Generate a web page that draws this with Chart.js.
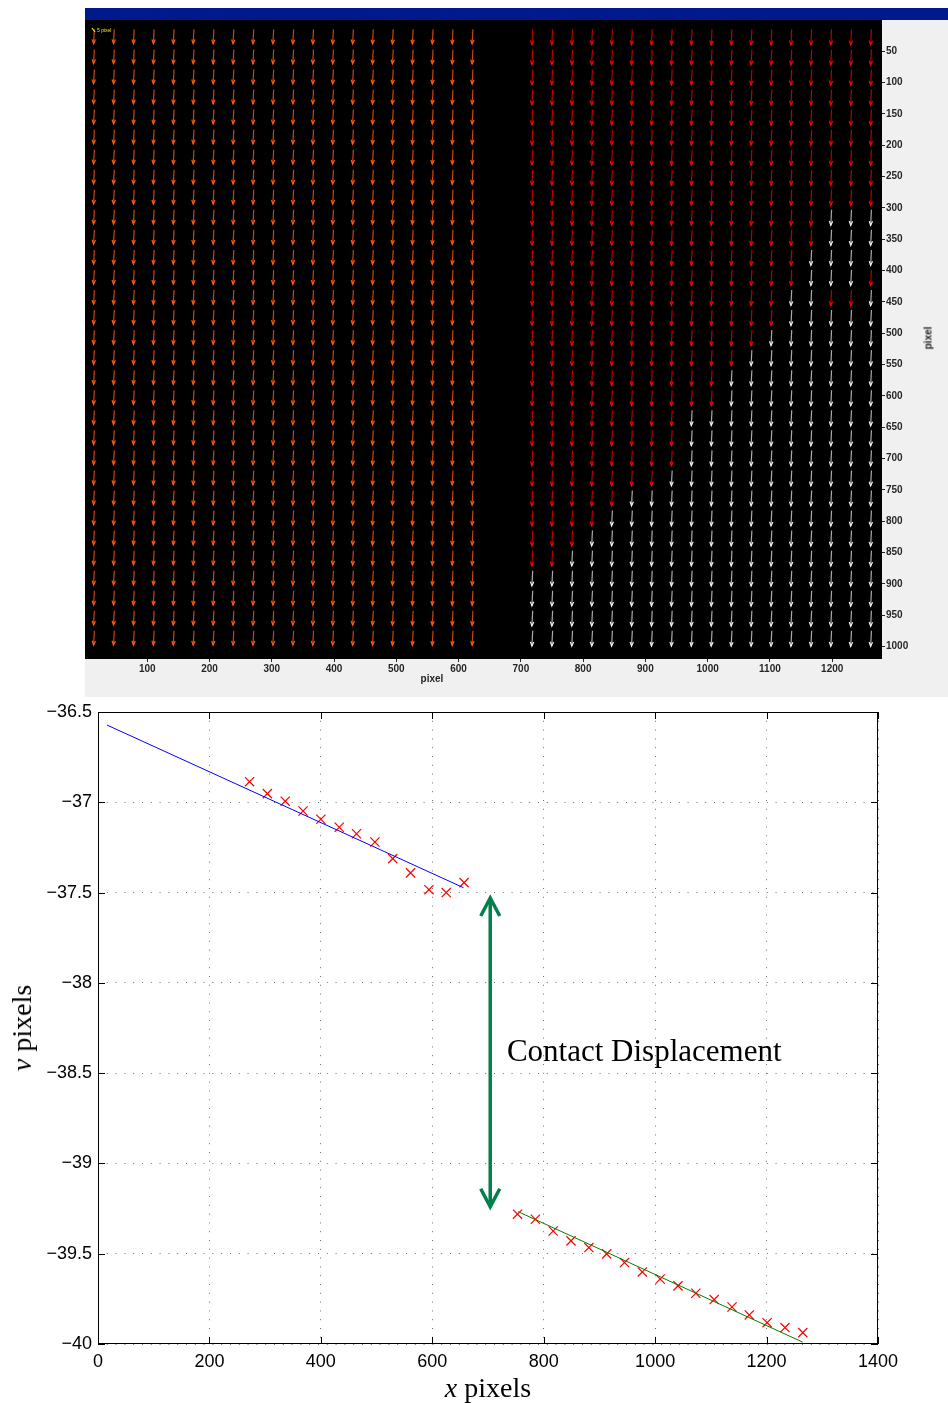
<!DOCTYPE html>
<html>
<head>
<meta charset="utf-8">
<script src="https://cdn.jsdelivr.net/npm/chart.js@4.4.1/dist/chart.umd.min.js"></script>
<style>
  body { margin: 0; background: #fff; width: 948px; height: 1403px; position: relative; overflow: hidden; }
  #titleBar { position: absolute; left: 85px; top: 8px; width: 863px; height: 13px; background: #001a8c; }
  #topFig { position: absolute; left: 85px; top: 20px; width: 863px; height: 677px; background: #f0f0f0; }
  #bottomFig { position: absolute; left: 0; top: 700px; width: 948px; height: 703px; }
  .lbl { position: absolute; white-space: nowrap; transform: translate(-50%, -50%); }
  .small { font: bold 10px "Liberation Sans", Arial, sans-serif; color: #262626; }
  .serif { font: 28px "Liberation Serif", "Times New Roman", serif; color: #000; }
</style>
</head>
<body>
<div id="titleBar"></div>
<div id="topFig"><canvas id="quiverChart" width="863" height="677"></canvas></div>
<div id="bottomFig"><canvas id="dispChart" width="948" height="703"></canvas></div>

<div class="lbl small" style="left:432px; top:678px;">pixel</div>
<div class="lbl small" style="left:928px; top:338px; transform: translate(-50%, -50%) rotate(-90deg);">pixel</div>
<div class="lbl serif" style="left:488px; top:1388px;"><i>x</i> pixels</div>
<div class="lbl serif" style="left:22px; top:1028px; transform: translate(-50%, -50%) rotate(-90deg);"><i>v</i> pixels</div>

<script>
// ---- top panel: displacement vectors ----
// grid columns (pixel x) left of the contact and right of it
const leftCols = [15, 47, 79, 111, 143, 175, 207, 239, 271, 303, 335, 367, 399, 431, 463, 495, 527, 559, 591, 623];
const rightCols = [719, 751, 783, 815, 847, 879, 911, 943, 975, 1007, 1039, 1071, 1103, 1135, 1167, 1199, 1231, 1263];
// grid rows (pixel y)
const gridRows = [15, 47, 79, 111, 143, 175, 207, 239, 271, 303, 335, 367, 399, 431, 463, 495,
  527, 559, 591, 623, 655, 687, 719, 751, 783, 815, 847, 879, 911, 943, 975];
// vertical displacement (pixels) per column
const leftV = [36.59, 36.64, 36.68, 36.73, 36.77, 36.82, 36.86, 36.91, 36.89, 36.95,
  36.99, 37.05, 37.09, 37.14, 37.17, 37.22, 37.31, 37.39, 37.48, 37.50];
const rightV = [39.23, 39.28, 39.31, 39.37, 39.43, 39.47, 39.50, 39.55, 39.60, 39.64,
  39.68, 39.72, 39.75, 39.80, 39.84, 39.88, 39.91, 39.94];
const driftU = -2; // small sideways component
const arrowScale = 0.62;
// row index where each right column turns white (lower right region)
const whiteFromRow = [27, 27, 26, 25, 24, 23, 23, 22, 19, 19, 17, 16, 15, 13, 11, 9, 9, 9];
// a few red arrows left inside the white region: [right column index, row index]
const redInWhite = [[15, 13], [16, 13], [17, 12]];
const pixelTicksX = [100, 200, 300, 400, 500, 600, 700, 800, 900, 1000, 1100, 1200];
const pixelTicksY = [50, 100, 150, 200, 250, 300, 350, 400, 450, 500, 550, 600, 650, 700, 750, 800, 850, 900, 950, 1000];

// ---- bottom panel ----
const upperX = [272, 304, 336, 368, 400, 433, 464, 497, 529, 561, 594, 625, 657];
const upperV = [-36.886, -36.952, -36.994, -37.048, -37.094, -37.138, -37.174, -37.220, -37.312, -37.391, -37.484, -37.500, -37.445];
const lowerX = [753, 785, 817, 849, 881, 913, 945, 977, 1009, 1041, 1073, 1106, 1138, 1169, 1201, 1233, 1265];
const lowerV = [-39.281, -39.309, -39.374, -39.429, -39.466, -39.501, -39.549, -39.601, -39.640, -39.678, -39.719, -39.754, -39.795, -39.839, -39.882, -39.909, -39.937];
const upperFitX = [16, 656];
const upperFitV = [-36.572, -37.473];
const lowerFitX = [754, 1265];
const lowerFitV = [-39.267, -39.990];
const gapX = 704;              // where the contact displacement arrow sits
const gapV = [-37.53, -39.24];  // arrow ends
const xTicks = [0, 200, 400, 600, 800, 1000, 1200, 1400];
const vTicks = [-40, -39.5, -39, -38.5, -38, -37.5, -37, -36.5];

// build the vector lists
let orangeArrows = [], redArrows = [], whiteArrows = [];
leftCols.forEach((cx, i) => {
  gridRows.forEach(ry => {
    orangeArrows.push({ x: cx, y: ry, u: driftU, v: leftV[i] });
  });
});
rightCols.forEach((cx, i) => {
  gridRows.forEach((ry, r) => {
    let p = { x: cx, y: ry, u: driftU, v: rightV[i] };
    let isRed = r < whiteFromRow[i] || redInWhite.some(e => e[0] == i && e[1] == r);
    if (isRed) redArrows.push(p); else whiteArrows.push(p);
  });
});

// chart.js pads the chart area for tick labels, we set the sizes ourselves
const noPad = s => { s.paddingTop = 0; s.paddingBottom = 0; s.paddingLeft = 0; s.paddingRight = 0; };
const plainNum = v => String(v);

const quiverPlugin = {
  id: 'quiver',
  beforeDatasetsDraw(chart) {
    const a = chart.chartArea;
    chart.ctx.save();
    chart.ctx.fillStyle = '#000';
    chart.ctx.fillRect(a.left, a.top, a.width, a.height);
    chart.ctx.restore();
  },
  afterDatasetsDraw(chart) {
    const { ctx, scales: { x, y } } = chart;
    ctx.save();
    ctx.lineWidth = 1.2;
    chart.data.datasets.forEach(ds => {
      ds.data.forEach(p => {
        const x0 = x.getPixelForValue(p.x), y0 = y.getPixelForValue(p.y);
        const x1 = x.getPixelForValue(p.x + p.u * arrowScale);
        const y1 = y.getPixelForValue(p.y + p.v * arrowScale);
        const ang = Math.atan2(y1 - y0, x1 - x0);
        ctx.strokeStyle = ds.stemColor;
        ctx.beginPath(); ctx.moveTo(x0, y0); ctx.lineTo(x1, y1); ctx.stroke();
        ctx.strokeStyle = ds.headColor;
        ctx.beginPath();
        ctx.moveTo(x1 - 4.5 * Math.cos(ang - 0.38), y1 - 4.5 * Math.sin(ang - 0.38));
        ctx.lineTo(x1, y1);
        ctx.lineTo(x1 - 4.5 * Math.cos(ang + 0.38), y1 - 4.5 * Math.sin(ang + 0.38));
        ctx.stroke();
      });
    });
    // little scale key in the corner
    ctx.strokeStyle = '#e6e600';
    ctx.fillStyle = '#e6e600';
    ctx.beginPath(); ctx.moveTo(7, 8); ctx.lineTo(10, 12); ctx.stroke();
    ctx.font = '5px "Liberation Sans", sans-serif';
    ctx.fillText('5 pixel', 12, 12);
    ctx.restore();
  }
};

const smallFont = { family: '"Liberation Sans", Arial, sans-serif', size: 10, weight: 'bold' };

new Chart(document.getElementById('quiverChart'), {
  type: 'scatter',
  data: {
    datasets: [
      { data: orangeArrows, pointRadius: 0, stemColor: '#cc440c', headColor: '#ff5a10' },
      { data: redArrows, pointRadius: 0, stemColor: '#b80000', headColor: '#ff0000' },
      { data: whiteArrows, pointRadius: 0, stemColor: '#aaaaaa', headColor: '#f2f2f2' }
    ]
  },
  options: {
    responsive: false,
    animation: false,
    layout: { padding: 0 },
    plugins: { legend: { display: false }, tooltip: { enabled: false } },
    scales: {
      x: {
        type: 'linear', min: 0, max: 1280,
        afterBuildTicks: s => { s.ticks = pixelTicksX.map(v => ({ value: v })); },
        afterFit: s => { s.height = 38; noPad(s); },
        ticks: { font: smallFont, color: '#262626', padding: 1, maxRotation: 0, autoSkip: false, callback: plainNum },
        grid: { drawOnChartArea: false, drawTicks: true, tickLength: 3, color: '#262626' },
        border: { display: false }
      },
      y: {
        type: 'linear', position: 'right', reverse: true, min: 0, max: 1020,
        afterBuildTicks: s => { s.ticks = pixelTicksY.map(v => ({ value: v })); },
        afterFit: s => { s.width = 66; noPad(s); },
        ticks: { font: smallFont, color: '#262626', padding: 1, autoSkip: false, callback: plainNum },
        grid: { drawOnChartArea: false, drawTicks: true, tickLength: 3, color: '#262626' },
        border: { display: false }
      }
    }
  },
  plugins: [quiverPlugin]
});

// ---- bottom chart ----
const minusSign = v => String(v).replace('-', '\u2212');

const boxPlugin = {
  id: 'box',
  afterDatasetsDraw(chart) {
    const { ctx, chartArea: a, scales: { x, y } } = chart;
    ctx.save();
    // contact displacement double arrow
    const ax = x.getPixelForValue(gapX);
    const ay0 = y.getPixelForValue(gapV[0]);
    const ay1 = y.getPixelForValue(gapV[1]);
    ctx.strokeStyle = '#00804a';
    ctx.lineWidth = 3.5;
    ctx.lineCap = 'butt';
    ctx.beginPath(); ctx.moveTo(ax, ay0 + 2); ctx.lineTo(ax, ay1 - 2); ctx.stroke();
    ctx.beginPath();
    ctx.moveTo(ax - 9.5, ay0 + 18); ctx.lineTo(ax, ay0); ctx.lineTo(ax + 9.5, ay0 + 18);
    ctx.moveTo(ax - 9.5, ay1 - 18); ctx.lineTo(ax, ay1); ctx.lineTo(ax + 9.5, ay1 - 18);
    ctx.stroke();
    ctx.fillStyle = '#000';
    ctx.font = '31px "Liberation Serif", "Times New Roman", serif';
    ctx.textBaseline = 'middle';
    ctx.fillText('Contact Displacement', x.getPixelForValue(734), y.getPixelForValue(-38.39));
    ctx.restore();
  },
  afterDraw(chart) {
    const { ctx, chartArea: a, scales: { x, y } } = chart;
    ctx.save();
    ctx.strokeStyle = '#000';
    ctx.lineWidth = 1;
    ctx.strokeRect(a.left + 0.5, a.top + 0.5, a.width - 1, a.height - 1);
    ctx.beginPath();
    x.ticks.forEach(t => {
      const px = Math.round(x.getPixelForValue(t.value)) + 0.5;
      ctx.moveTo(px, a.bottom); ctx.lineTo(px, a.bottom - 7);
      ctx.moveTo(px, a.top); ctx.lineTo(px, a.top + 7);
    });
    y.ticks.forEach(t => {
      const py = Math.round(y.getPixelForValue(t.value)) + 0.5;
      ctx.moveTo(a.left, py); ctx.lineTo(a.left + 7, py);
      ctx.moveTo(a.right, py); ctx.lineTo(a.right - 7, py);
    });
    ctx.stroke();
    ctx.restore();
  }
};

const tickFont = { family: '"Liberation Sans", Arial, Helvetica, sans-serif', size: 18 };
const pts = (xs, vs) => xs.map((v, i) => ({ x: v, y: vs[i] }));

new Chart(document.getElementById('dispChart'), {
  type: 'scatter',
  data: {
    datasets: [
      { data: pts(upperFitX, upperFitV), showLine: true, borderColor: '#0000ff', borderWidth: 1, pointRadius: 0 },
      { data: pts(lowerFitX, lowerFitV), showLine: true, borderColor: '#008000', borderWidth: 1, pointRadius: 0 },
      { data: pts(upperX, upperV), pointStyle: 'crossRot', pointRadius: 6.5, borderColor: '#ff0000', backgroundColor: '#ff0000', borderWidth: 1.2 },
      { data: pts(lowerX, lowerV), pointStyle: 'crossRot', pointRadius: 6.5, borderColor: '#ff0000', backgroundColor: '#ff0000', borderWidth: 1.2 }
    ]
  },
  options: {
    responsive: false,
    animation: false,
    layout: { padding: { top: 12, right: 70, left: 0, bottom: 0 } },
    plugins: { legend: { display: false }, tooltip: { enabled: false } },
    scales: {
      x: {
        type: 'linear', min: 0, max: 1400,
        afterBuildTicks: s => { s.ticks = xTicks.map(v => ({ value: v })); },
        afterFit: s => { s.height = 59; noPad(s); },
        ticks: { font: tickFont, color: '#000', padding: 7, maxRotation: 0, autoSkip: false, callback: plainNum },
        grid: { color: '#707070', lineWidth: 1, drawTicks: false },
        border: { display: false, dash: [1, 7.8] }
      },
      y: {
        type: 'linear', min: -40, max: -36.5,
        afterBuildTicks: s => { s.ticks = vTicks.map(v => ({ value: v })); },
        afterFit: s => { s.width = 98; noPad(s); },
        ticks: { font: tickFont, color: '#000', padding: 6, autoSkip: false, callback: minusSign },
        grid: { color: '#707070', lineWidth: 1, drawTicks: false },
        border: { display: false, dash: [1, 7.8] }
      }
    }
  },
  plugins: [boxPlugin]
});
</script>
</body>
</html>
